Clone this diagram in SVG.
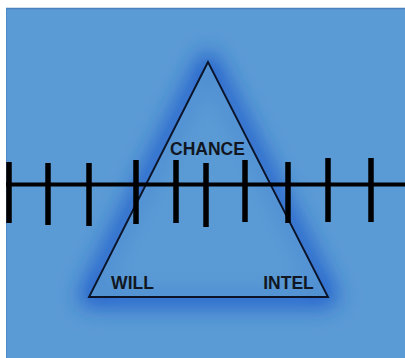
<svg xmlns="http://www.w3.org/2000/svg" width="405" height="358" viewBox="0 0 405 358">
<defs>
<filter id="glow" x="-40%" y="-40%" width="180%" height="180%">
<feGaussianBlur stdDeviation="11"/>
</filter>
<style>
.lbl{font-family:"Liberation Sans",Arial,sans-serif;font-weight:bold;font-size:17.5px;fill:#111722;text-anchor:middle}
.tick{stroke:#000;stroke-width:5.5}
</style>
</defs>
<rect x="0" y="0" width="405" height="358" fill="#ffffff"/>
<rect x="6" y="8" width="399" height="350" fill="#5b9bd5"/>
<line x1="6" y1="8.5" x2="405" y2="8.5" stroke="#4a80bd" stroke-width="1.5"/>
<line x1="6.5" y1="8" x2="6.5" y2="358" stroke="#5288c6" stroke-width="1"/>
<g id="triangle">
<polygon points="208,62 89,297 328,297" fill="none" stroke="#2060cc" stroke-width="20" stroke-linejoin="round" filter="url(#glow)"/>
<polygon points="208,62 89,297 328,297" fill="#5b9bd5" stroke="none" opacity="0.8"/>
<polygon points="208,62 89,297 328,297" fill="none" stroke="#0b1428" stroke-width="1.9"/>
</g>
<g id="timeline">
<line x1="6" y1="184.5" x2="405" y2="184.5" stroke="#000" stroke-width="4"/>
<line class="tick" x1="9" y1="162" x2="9" y2="223"/>
<line class="tick" x1="48" y1="163" x2="48" y2="225"/>
<line class="tick" x1="89" y1="163" x2="89" y2="226"/>
<line class="tick" x1="136" y1="160" x2="136" y2="224"/>
<line class="tick" x1="176" y1="160" x2="176" y2="223"/>
<line class="tick" x1="206" y1="163" x2="206" y2="227"/>
<line class="tick" x1="245" y1="160" x2="245" y2="222"/>
<line class="tick" x1="288" y1="162" x2="288" y2="223"/>
<line class="tick" x1="328" y1="158" x2="328" y2="222"/>
<line class="tick" x1="371" y1="158" x2="371" y2="222"/>
</g>
<g id="chance"><text class="lbl" x="207.5" y="154.5">CHANCE</text></g>
<g id="will"><text class="lbl" x="132.5" y="288.5">WILL</text></g>
<g id="intel"><text class="lbl" x="288.5" y="288.5">INTEL</text></g>
</svg>
